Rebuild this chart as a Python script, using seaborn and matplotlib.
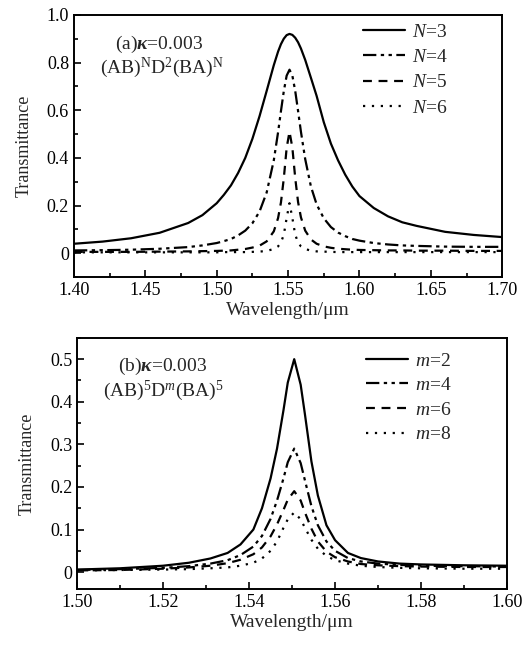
import matplotlib
matplotlib.use("Agg")
import matplotlib.pyplot as plt
from matplotlib.ticker import MultipleLocator
import seaborn as sns
import pandas as pd

# ---- panel (a): (AB)^N D^2 (BA)^N ----
wl_a = [1.40, 1.42, 1.44, 1.46, 1.48, 1.49, 1.50, 1.505, 1.51, 1.515, 1.52,
        1.525, 1.53, 1.535, 1.54, 1.543, 1.545, 1.547, 1.549, 1.551, 1.553,
        1.555, 1.557, 1.559, 1.562, 1.566, 1.57, 1.575, 1.58, 1.585, 1.59,
        1.595, 1.60, 1.61, 1.62, 1.63, 1.64, 1.66, 1.68, 1.70]

t_n3 = [0.040, 0.049, 0.063, 0.086, 0.127, 0.16, 0.21, 0.245, 0.285, 0.337, 0.40,
        0.48, 0.575, 0.681, 0.789, 0.846, 0.877, 0.900, 0.915, 0.92, 0.916,
        0.904, 0.885, 0.859, 0.811, 0.736, 0.66, 0.55, 0.46, 0.39, 0.33,
        0.28, 0.24, 0.19, 0.155, 0.13, 0.115, 0.09, 0.077, 0.068]
t_n4 = [0.012, 0.013, 0.015, 0.019, 0.026, 0.033, 0.043, 0.051, 0.06, 0.075, 0.095,
        0.126, 0.175, 0.255, 0.39, 0.508, 0.596, 0.680, 0.745, 0.77, 0.745,
        0.681, 0.597, 0.51, 0.395, 0.28, 0.205, 0.147, 0.11, 0.087, 0.072,
        0.06, 0.053, 0.043, 0.037, 0.033, 0.031, 0.028, 0.027, 0.027]
t_n5 = [0.006, 0.006, 0.006, 0.007, 0.008, 0.009, 0.010, 0.011, 0.012, 0.015, 0.018,
        0.024, 0.032, 0.05, 0.092, 0.148, 0.213, 0.314, 0.442, 0.51, 0.443,
        0.316, 0.215, 0.151, 0.095, 0.058, 0.04, 0.029, 0.023, 0.019, 0.017,
        0.015, 0.014, 0.013, 0.012, 0.012, 0.011, 0.011, 0.010, 0.010]
t_n6 = [0.004, 0.004, 0.004, 0.004, 0.004, 0.004, 0.004, 0.005, 0.005, 0.005, 0.005,
        0.006, 0.007, 0.01, 0.018, 0.029, 0.045, 0.078, 0.148, 0.21, 0.148,
        0.078, 0.045, 0.029, 0.018, 0.011, 0.008, 0.007, 0.006, 0.005, 0.005,
        0.005, 0.005, 0.005, 0.005, 0.005, 0.005, 0.005, 0.005, 0.005]

# ---- panel (b): (AB)^5 D^m (BA)^5 ----
wl_b = [1.500, 1.510, 1.520, 1.526, 1.531, 1.535, 1.538, 1.541, 1.543, 1.545,
        1.5465, 1.548, 1.549, 1.5505, 1.552, 1.553, 1.5545, 1.556, 1.558, 1.560,
        1.563, 1.566, 1.570, 1.575, 1.580, 1.590, 1.600]

t_m2 = [0.006, 0.009, 0.015, 0.022, 0.032, 0.045, 0.065, 0.10, 0.15, 0.22,
        0.29, 0.38, 0.445, 0.50, 0.44, 0.37, 0.26, 0.18, 0.11, 0.075,
        0.045, 0.033, 0.025, 0.020, 0.018, 0.016, 0.015]
t_m4 = [0.005, 0.007, 0.010, 0.014, 0.020, 0.028, 0.040, 0.060, 0.085, 0.125,
        0.168, 0.22, 0.258, 0.29, 0.256, 0.215, 0.155, 0.11, 0.072, 0.05,
        0.033, 0.025, 0.020, 0.017, 0.015, 0.014, 0.013]
t_m6 = [0.004, 0.005, 0.008, 0.011, 0.015, 0.021, 0.029, 0.042, 0.058, 0.084,
        0.112, 0.146, 0.17, 0.19, 0.168, 0.14, 0.102, 0.072, 0.048, 0.035,
        0.025, 0.019, 0.016, 0.014, 0.013, 0.012, 0.012]
t_m8 = [0.004, 0.005, 0.006, 0.007, 0.009, 0.011, 0.015, 0.022, 0.032, 0.05,
        0.072, 0.104, 0.124, 0.14, 0.124, 0.104, 0.076, 0.055, 0.038, 0.028,
        0.02, 0.015, 0.012, 0.010, 0.009, 0.008, 0.008]

labels_a = [r'$N$=3', r'$N$=4', r'$N$=5', r'$N$=6']
labels_b = [r'$m$=2', r'$m$=4', r'$m$=6', r'$m$=8']

styles = ['-', (0, (6, 2, 1.5, 2, 1.5, 2)), (0, (4, 3)), (0, (1, 3))]

sns.set_theme(style="ticks")
plt.rcParams['font.family'] = ['Liberation Serif', 'DejaVu Serif']
plt.rcParams['mathtext.fontset'] = 'custom'
plt.rcParams['mathtext.rm'] = 'Liberation Serif'
plt.rcParams['mathtext.it'] = 'Liberation Serif:italic'
plt.rcParams['mathtext.bf'] = 'Liberation Serif:bold'
plt.rcParams['mathtext.bfit'] = 'Liberation Serif:italic:bold'


def draw_panel(ax, wl, series, labels, leg_anchor, spacing):
    for t, lab, ls in zip(series, labels, styles):
        df = pd.DataFrame({'wl': wl, 't': t})
        sns.lineplot(data=df, x='wl', y='t', ax=ax, color='black',
                     linestyle=ls, linewidth=1.6, label=lab)
    for sp in ax.spines.values():
        sp.set_linewidth(1.4)
        sp.set_color('black')
    ax.tick_params(which='both', direction='in', top=False, right=False,
                   labelsize=13, width=1.2, colors='black')
    ax.tick_params(which='major', length=5)
    ax.tick_params(which='minor', length=3)
    ax.set_xlabel('Wavelength/μm', fontsize=14, labelpad=2)
    ax.set_ylabel('Transmittance', fontsize=13, labelpad=10)
    ax.legend(loc='upper left', bbox_to_anchor=leg_anchor, frameon=False,
              fontsize=14, handlelength=2.15, handletextpad=0.36,
              labelspacing=spacing, borderpad=0, borderaxespad=0)


fig = plt.figure(figsize=(5.32, 6.46), dpi=100)
ax1 = fig.add_axes([0.139, 0.571, 0.805, 0.406])
ax2 = fig.add_axes([0.145, 0.088, 0.808, 0.389])

draw_panel(ax1, wl_a, [t_n3, t_n4, t_n5, t_n6], labels_a, (0.675, 0.969), 0.4)
ax1.set_xlim(1.40, 1.70)
ax1.set_ylim(-0.1, 1.0)
ax1.xaxis.set_minor_locator(MultipleLocator(0.025))
ax1.yaxis.set_minor_locator(MultipleLocator(0.1))
ax1.set_xticks([1.40, 1.45, 1.50, 1.55, 1.60, 1.65, 1.70])
ax1.set_xticklabels(['1.40', '1.45', '1.50', '1.55', '1.60', '1.65', '1.70'])
ax1.set_yticks([0, 0.2, 0.4, 0.6, 0.8, 1.0])
ax1.set_yticklabels(['0', '0.2', '0.4', '0.6', '0.8', '1.0'])
ax1.text(0.095, 0.87, r'(a)$\mathbfit{\kappa}$=0.003', transform=ax1.transAxes,
         fontsize=14)
ax1.text(0.06, 0.78, r'(AB)$^{\mathrm{N}}$D$^{2}$(BA)$^{\mathrm{N}}$',
         transform=ax1.transAxes, fontsize=14)

draw_panel(ax2, wl_b, [t_m2, t_m4, t_m6, t_m8], labels_b, (0.672, 0.944), 0.36)
ax2.set_xlim(1.50, 1.60)
ax2.set_ylim(-0.04, 0.55)
ax2.xaxis.set_minor_locator(MultipleLocator(0.01))
ax2.set_xticks([1.50, 1.52, 1.54, 1.56, 1.58, 1.60])
ax2.set_xticklabels(['1.50', '1.52', '1.54', '1.56', '1.58', '1.60'])
ax2.set_yticks([0, 0.1, 0.2, 0.3, 0.4, 0.5])
ax2.set_yticklabels(['0', '0.1', '0.2', '0.3', '0.4', '0.5'])
ax2.yaxis.set_minor_locator(MultipleLocator(0.05))
ax2.text(0.095, 0.87, r'(b)$\mathbfit{\kappa}$=0.003', transform=ax2.transAxes,
         fontsize=14)
ax2.text(0.06, 0.77, r'(AB)$^{5}$D$^{m}$(BA)$^{5}$',
         transform=ax2.transAxes, fontsize=14)

fig.savefig('out.png', dpi=100)
